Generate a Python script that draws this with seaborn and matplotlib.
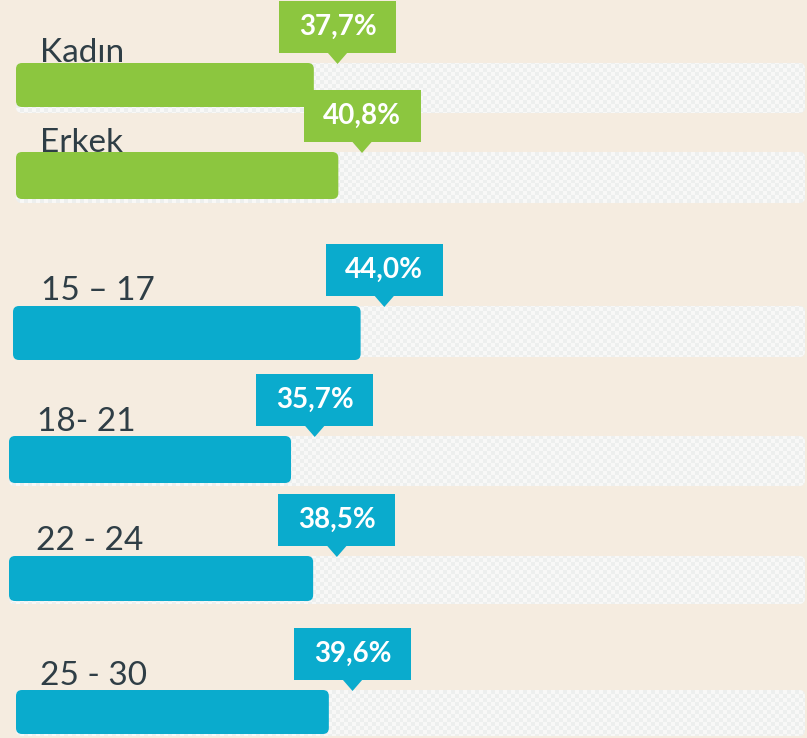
import numpy as np
import matplotlib
matplotlib.use("Agg")
import matplotlib.pyplot as plt
from matplotlib.patches import FancyBboxPatch, Rectangle, Polygon
from matplotlib.colors import ListedColormap
import seaborn as sns

# data
labels = ["Kadın", "Erkek", "15 – 17", "18- 21", "22 - 24", "25 - 30"]
shares = [37.7, 40.8, 44.0, 35.7, 38.5, 39.6]
share_text = ["37,7%", "40,8%", "44,0%", "35,7%", "38,5%", "39,6%"]
groups = ["Cinsiyet", "Cinsiyet", "Yaş", "Yaş", "Yaş", "Yaş"]

# layout in pixels
W, H = 807, 738
PX = 7.9          # px per percentage point
X0 = 16           # px where 0 % sits
bar_top = [63, 152, 306, 436, 556, 690]
bar_h = [44, 47, 54, 47, 45, 44]
track_h = [50, 51, 51, 50, 48, 46]
bar_left = [16, 16, 13, 9, 9, 16]
label_x = [40, 40, 41, 37, 36, 40]
label_lift = [1, 0, 6, 5, 6, 5]
TRACK_END = 805

BG = "#F5ECE0"
TEXT = "#2F3E46"
palette = {"Cinsiyet": "#8CC63F", "Yaş": "#0AABCD"}

sns.set_theme(style="white")
plt.rcParams["font.family"] = ["Lato", "DejaVu Sans"]

fig = plt.figure(figsize=(W / 100, H / 100), dpi=100, facecolor=BG)
ax = fig.add_axes([0, 0, 1, 1])
ax.set_facecolor(BG)

xmin, xmax = -X0 / PX, (W - X0) / PX
r = 6 / PX          # corner radius in x units
aspect = PX         # y px per x unit

# checker texture for the empty tracks
cell = 4
checker = np.add.outer(np.arange(H // cell + 1), np.arange(W // cell + 1)) % 2
tex_cmap = ListedColormap(["#EDEFEE", "#F8F8F7"])

lefts = [(b - X0) / PX for b in bar_left]

for i in range(len(labels)):
    tw = (TRACK_END - bar_left[i]) / PX
    track = FancyBboxPatch((lefts[i], bar_top[i]), tw, track_h[i],
                           boxstyle=f"round,pad=0,rounding_size={r}",
                           mutation_aspect=aspect, fc="#F1F2F1", ec="none", zorder=1.5)
    ax.add_patch(track)
    im = ax.imshow(checker, cmap=tex_cmap, extent=(xmin, xmax, H, 0),
                   aspect="auto", interpolation="nearest", zorder=1.6)
    im.set_clip_path(track)

# bars, then swap for rounded versions
ys = [t + h / 2 for t, h in zip(bar_top, bar_h)]
colors = [palette[g] for g in groups]
bars = ax.barh(ys, shares, height=bar_h, left=lefts, color=colors)
for p, c in zip(bars.patches, colors):
    p.set_visible(False)
    ax.add_patch(FancyBboxPatch((p.get_x(), p.get_y()), p.get_width(), p.get_height(),
                                boxstyle=f"round,pad=0,rounding_size={r}",
                                mutation_aspect=aspect, fc=c, ec="none", zorder=3))

# category labels (sit behind the bars)
for i, lab in enumerate(labels):
    ax.text((label_x[i] - X0) / PX, bar_top[i] - label_lift[i], lab,
            fontsize=24, color=TEXT, va="baseline", ha="left", zorder=1)

# value callouts
bw, bh = 117 / PX, 52
for i, txt in enumerate(share_text):
    tx = lefts[i] + shares[i] + 3.0
    ty = bar_top[i]
    c = colors[i]
    ax.add_patch(Rectangle((tx - bw / 2, ty - 62), bw, bh, fc=c, ec="none", zorder=4))
    ax.add_patch(Polygon([(tx - 10 / PX, ty - 10.5), (tx + 10 / PX, ty - 10.5), (tx, ty + 1)],
                         closed=True, fc=c, ec="none", zorder=4))
    ax.text(tx, ty - 36, txt, color="white", fontsize=20, fontweight="bold",
            ha="center", va="center", zorder=5)

ax.set_xlim(xmin, xmax)
ax.set_ylim(H, 0)
ax.axis("off")

fig.savefig("out.png", dpi=100, facecolor=BG)
